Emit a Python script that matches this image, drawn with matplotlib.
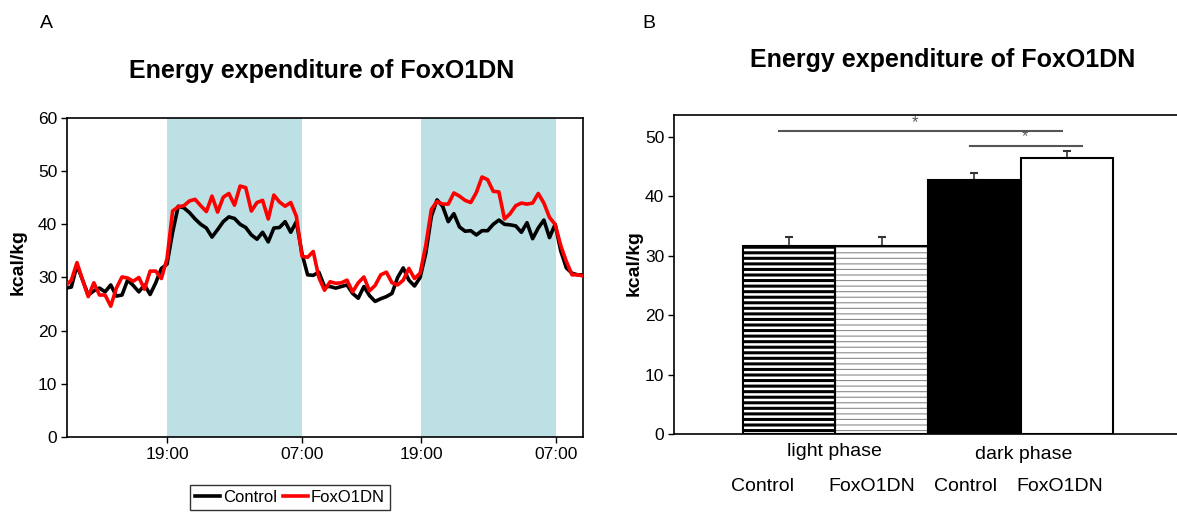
import numpy as np
import matplotlib
matplotlib.use("Agg")
import matplotlib.pyplot as plt

plt.rcParams['font.family'] = ['Liberation Sans', 'DejaVu Sans']

# --- panel A: energy expenditure per recording bin ---
control_ee = [
    28.0, 28.2, 32.3, 29.5, 26.7, 27.5, 28.0, 27.3, 28.6, 26.5,
    26.7, 29.5, 28.5, 27.3, 28.6, 26.8, 29.0, 31.7, 32.5, 38.5,
    43.4, 43.1, 42.2, 41.0, 40.0, 39.3, 37.6, 39.0, 40.5, 41.4,
    41.1, 40.0, 39.4, 38.0, 37.2, 38.5, 36.7, 39.3, 39.4, 40.5,
    38.5, 40.5, 34.5, 30.5, 30.4, 31.0, 28.3, 28.3, 28.0, 28.3,
    28.6, 27.0, 26.1, 28.3, 26.6, 25.5, 26.0, 26.4, 27.0, 30.0,
    31.8, 29.5, 28.4, 30.0, 34.5, 41.5, 44.6, 43.4, 40.5, 42.0,
    39.5, 38.7, 38.8, 38.0, 38.8, 38.8, 40.0, 40.8, 40.0, 39.9,
    39.7, 38.5, 40.3, 37.3, 39.3, 40.8, 37.5, 40.0, 35.0, 31.8,
    30.8, 30.5, 30.5,
]
foxo_ee = [
    28.5, 29.5, 32.8, 29.5, 26.4, 29.0, 26.7, 26.7, 24.6, 28.0,
    30.1, 29.9, 29.3, 30.0, 27.8, 31.2, 31.2, 29.8, 33.5, 42.5,
    43.3, 43.5, 44.4, 44.7, 43.5, 42.4, 45.3, 42.3, 45.1, 45.8,
    43.6, 47.2, 46.9, 42.5, 44.1, 44.5, 41.0, 45.5, 44.2, 43.4,
    44.1, 41.5, 34.0, 33.8, 34.9, 30.0, 27.6, 29.2, 28.9, 29.0,
    29.5, 27.3, 29.0, 30.1, 27.5, 28.5, 30.5, 31.0, 29.0, 28.6,
    29.5, 31.7, 29.8, 30.8, 36.0, 42.8, 44.3, 43.8, 43.8, 45.9,
    45.3, 44.5, 44.1, 46.0, 48.9, 48.4, 46.2, 46.1, 41.0, 42.0,
    43.5, 44.0, 43.8, 44.0, 45.8, 44.0, 41.3, 40.0, 36.0, 33.0,
    30.5, 30.5, 30.3,
]
# lights off / on, in bin units
dark_periods = [(18, 42), (63.2, 87.2)]
time_ticks = [18, 42, 63.2, 87.2]
time_labels = ['19:00', '07:00', '19:00', '07:00']

# --- panel B: phase means ---
bar_labels = ['Control', 'FoxO1DN', 'Control', 'FoxO1DN']
bar_means = [31.7, 31.7, 42.8, 46.5]
bar_sem = [1.5, 1.5, 1.2, 1.1]
phase_names = ['light phase', 'dark phase']

title = 'Energy expenditure of FoxO1DN'
shade = '#bce0e4'

fig = plt.figure(figsize=(11.77, 5.15), dpi=100)

# ---------------- A ----------------
ax1 = fig.add_axes([0.0569, 0.1515, 0.4384, 0.6194])
bins = np.arange(len(control_ee))
for a, b in dark_periods:
    ax1.axvspan(a, b, color=shade, lw=0, zorder=0)
ax1.plot(bins, control_ee, color='black', lw=2.6, label='Control', zorder=2)
ax1.plot(bins, foxo_ee, color='#ff0000', lw=2.6, label='FoxO1DN', zorder=3)
ax1.set_xlim(0.22, 91.95)
ax1.set_ylim(0, 60)
ax1.set_yticks(range(0, 61, 10))
ax1.set_xticks(time_ticks)
ax1.set_xticklabels(time_labels)
ax1.tick_params(labelsize=12.5, length=4, width=1, pad=3)
for sp in ax1.spines.values():
    sp.set_linewidth(1.2)
ax1.set_ylabel('kcal/kg', fontsize=14, fontweight='bold')
ax1.yaxis.set_label_coords(-0.078, 0.549)
fig.text(0.2736, 0.862, title, fontsize=18, fontweight='bold',
         ha='center', va='center')
leg = ax1.legend(loc='upper center', bbox_to_anchor=(0.2465, 0.058),
                 bbox_transform=fig.transFigure, ncol=2, fontsize=12,
                 frameon=True, fancybox=False, edgecolor='black',
                 handlelength=1.5, handletextpad=0.15, columnspacing=0.4,
                 borderpad=0.3, borderaxespad=0)
leg.get_frame().set_linewidth(1.0)

fig.text(0.034, 0.955, 'A', fontsize=14, ha='left', va='center')
fig.text(0.546, 0.955, 'B', fontsize=14, ha='left', va='center')

# ---------------- B ----------------
ax2 = fig.add_axes([0.5726, 0.1573, 0.4274, 0.6194])
xpos = np.arange(len(bar_means)) + 0.5

# light phase, control: thick black stripes
b0 = ax2.bar(xpos[0], bar_means[0], width=1.0, color='white',
             edgecolor='black', hatch='---', lw=0, zorder=2)
# light phase, FoxO1DN: thin grey stripes
b1 = ax2.bar(xpos[1], bar_means[1], width=1.0, color='white',
             edgecolor='#8a8a8a', hatch='---', lw=0, zorder=2)
for bars, hw in ((b0, 2.2), (b1, 0.8)):
    for p in bars:
        if hasattr(p, 'set_hatch_linewidth'):
            p.set_hatch_linewidth(hw)
        else:
            p._hatch_linewidth = hw
# outlines for the striped bars
ax2.bar(xpos[:2], bar_means[:2], width=1.0, fill=False,
        edgecolor='black', lw=1.5, zorder=3)
# dark phase
ax2.bar(xpos[2], bar_means[2], width=1.0, color='black',
        edgecolor='black', lw=1.5, zorder=2)
ax2.bar(xpos[3], bar_means[3], width=1.0, color='white',
        edgecolor='black', lw=1.5, zorder=2)
ax2.errorbar(xpos, bar_means, yerr=[[0] * 4, bar_sem], fmt='none',
             ecolor='#333333', elinewidth=1.2, capsize=3, capthick=1.5,
             zorder=1)

# significance marks
ax2.plot([0.393, 3.443], [51.05, 51.05], color='#555555', lw=1.5, zorder=4)
ax2.text(1.86, 52.5, '*', fontsize=12, color='#555555', ha='center', va='center')
ax2.plot([2.45, 3.66], [48.5, 48.5], color='#555555', lw=1.5, zorder=4)
ax2.text(3.05, 50.0, '*', fontsize=12, color='#555555', ha='center', va='center')

ax2.set_xlim(-0.744, 4.688)
ax2.set_ylim(0, 53.7)
ax2.set_yticks(range(0, 51, 10))
ax2.set_xticks([])
ax2.spines['right'].set_visible(False)
for sp in ('left', 'bottom', 'top'):
    ax2.spines[sp].set_linewidth(1.2)
ax2.tick_params(axis='y', labelsize=12.5, length=4, width=1, pad=3)
ax2.set_ylabel('kcal/kg', fontsize=14, fontweight='bold')
ax2.yaxis.set_label_coords(-0.062, 0.536)
fig.text(0.801, 0.883, title, fontsize=18, fontweight='bold',
         ha='center', va='center')

trans = ax2.get_xaxis_transform()
ax2.text(0.99, -0.055, phase_names[0], transform=trans, fontsize=14,
         ha='center', va='center')
ax2.text(3.03, -0.065, phase_names[1], transform=trans, fontsize=14,
         ha='center', va='center')
for x, lab in zip([0.21, 1.39, 2.40, 3.42], bar_labels):
    ax2.text(x, -0.165, lab, transform=trans, fontsize=14,
             ha='center', va='center')

fig.savefig('out.png', dpi=100)
